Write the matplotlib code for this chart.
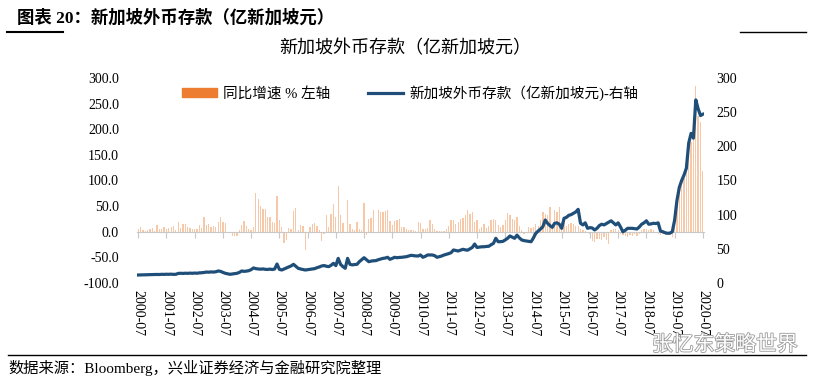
#!/usr/bin/env python3
# Singapore foreign currency deposits: yoy growth bars (left) + level line (right)
import matplotlib
matplotlib.use("Agg")
import matplotlib.pyplot as plt
import matplotlib.patheffects as pe
from matplotlib.lines import Line2D
from matplotlib.patches import Patch
from matplotlib.ticker import FormatStrFormatter
import pandas as pd

plt.rcParams['font.family'] = ['Liberation Serif', 'Noto Sans CJK SC', 'DejaVu Sans']
plt.rcParams['axes.unicode_minus'] = False

# monthly, 2000-07 .. 2020-07
months = pd.date_range("2000-07-01", "2020-07-01", freq="MS").strftime("%Y-%m").tolist()

# 同比增速 %  (left axis)
growth = [
    4.5, 10, 3, 2, 3, 4.5, 6.5, 2, 13, 4.5, 6, 10,
    4.5, 8, 10, 11, 3, 19.5, 6.5, 15, 16, 10, 8, 4.5,
    6, 4.5, 13, 6.5, 28, 13, 16, 10, 11, 10, 19.5, 28,
    19.5, 17.5, -3, 0, -8.5, -9, -8.5, 3, 13, 21, 11, 4.5,
    3, 10, 76, 64, 51, 43.5, 43.5, 29, 29, 19.5, 17.5, 70,
    22, 10, -22, -15.6, 8, 6, 40, 46, 3, 14, 12, -35,
    0, 9, 15.6, 17, 12, 4, -18, -4, 32, 9, 34, 55,
    28.6, 90, 32, 17, 0, 61, 15.6, 6, 3, 19, 6, 4,
    56, -7, 25, 27, 42, 0, 42, 38, 38, 40, 42, 21,
    14, 21, 23, 25, 9, 10, 6, 4, 4, 3, 2, 19,
    17, 6, 6, 8, 22, 15.6, 6, 2, 1, 1, 2, 5,
    12, 23, 22, 15.6, 19, 25, 27, 32, 43, 34, 38, 19,
    22, 6, 9, 15.6, 8, 12, 22, 25, 22, 14, 9, 14,
    22, 36, 32, 25, 22, 29, 12, 4, -5, 0, 9, 8,
    10, 15.6, 12, 23, 38, 35, 32, 48, 15.6, 43, 38, 48,
    19, 22, 12, 15.6, 18, 15, 12, 12, 5, 3, 2, -2,
    -5, -18, -20, -15, -14, -17, -10, -17, -23, 3, 5, 6,
    4, -4, -6, -8, -10, -6, -9, -5, -8, -4, 4, 5,
    6, 4, 5, 3, -3, -5, -7, -4, -6, -5, -7, -10,
    40, 58, 78, 90, 105, 127, 145, 175, 195, 285, 225, 215,
    118,
]

# 新加坡外币存款 (亿新加坡元)  (right axis)
deposits = [
    11.7, 11.8, 12.0, 11.9, 12.1, 12.3, 12.2, 12.4, 12.5, 12.4, 12.7, 12.6,
    12.8, 12.7, 12.9, 12.6, 12.7, 14.0, 14.2, 14.0, 14.3, 14.1, 14.4, 14.2,
    14.5, 14.3, 14.8, 15.0, 15.4, 16.0, 15.8, 16.2, 16.0, 16.4, 17.6, 17.0,
    15.5, 14.2, 13.5, 12.7, 13.2, 13.8, 14.2, 15.5, 17.6, 17.0, 17.4, 18.0,
    19.5, 22.0, 21.0, 20.5, 20.2, 20.6, 20.0, 19.8, 20.3, 19.7, 20.5, 27.8,
    20.0, 19.0, 20.5, 22.0, 23.4, 25.0, 27.3, 24.5, 21.5, 20.5, 19.8, 19.0,
    19.5, 20.0, 20.5, 21.0, 22.4, 23.5, 24.9, 25.5, 24.5, 23.9, 26.0, 28.8,
    25.4, 36.0, 27.3, 24.0, 21.5, 36.0, 27.3, 26.5, 27.0, 27.3, 31.2, 34.0,
    37.0, 34.0, 31.2, 32.0, 32.5, 32.7, 34.0, 35.0, 36.0, 36.5, 37.6, 34.6,
    36.0, 37.6, 37.0, 37.4, 37.6, 38.0, 38.5, 39.5, 40.5, 40.0, 39.6, 39.5,
    41.0, 37.6, 39.0, 41.0, 41.0, 41.0, 40.0, 37.6, 38.5, 39.5, 41.0, 42.0,
    43.0, 44.4, 48.3, 47.5, 46.8, 48.0, 49.3, 48.5, 48.0, 50.0, 52.0, 57.0,
    52.0, 52.5, 53.0, 53.0, 53.5, 53.7, 56.0, 58.0, 65.4, 60.4, 60.5, 60.9,
    63.0, 65.4, 68.8, 67.0, 65.4, 70.0, 66.0, 63.0, 62.0, 61.5, 61.0, 60.4,
    66.0, 72.7, 76.0, 79.0, 82.4, 92.2, 87.4, 84.0, 81.5, 87.4, 88.0, 86.0,
    80.0, 94.7, 96.0, 99.0, 100.0, 102.0, 104.0, 107.8, 87.4, 85.0, 88.0, 80.0,
    81.0, 80.5, 77.6, 80.0, 84.0, 86.0, 85.0, 87.0, 89.0, 91.0, 88.0, 85.0,
    88.0, 82.0, 75.0, 77.0, 80.0, 80.0, 80.0, 79.5, 79.0, 82.0, 86.0, 88.0,
    91.0, 86.0, 86.5, 87.4, 87.0, 88.0, 76.0, 75.0, 73.5, 72.7, 73.0, 75.0,
    92.0, 121.0, 140.0, 150.0, 158.0, 168.0, 205.0, 219.0, 212.0, 268.0, 255.0, 245.0,
    247.0,
]

idx = list(range(len(months)))
tick_pos = idx[::12]
tick_labels = months[::12]

fig = plt.figure(figsize=(8.27, 3.82), dpi=100)
ax = fig.add_axes([0.1657, 0.2592, 0.6856, 0.5366])

ax.bar(idx, growth, width=0.55, color="#ED7D31", alpha=0.42, linewidth=0)
ax.set_xlim(-0.5, len(idx) - 0.5)
ax.set_ylim(-100, 300)
ax.set_yticks(range(-100, 301, 50))
ax.yaxis.set_major_formatter(FormatStrFormatter('%.1f'))
ax.tick_params(axis='y', length=0, pad=13, labelsize=10)
for s in ['left', 'right', 'top']:
    ax.spines[s].set_visible(False)
ax.spines['bottom'].set_position(('data', 0))
ax.spines['bottom'].set_color('#c8c8c8')
ax.set_xticks(tick_pos)
ax.tick_params(axis='x', length=4, color='#c8c8c8', labelbottom=False)

# date labels sit at the bottom of the plot, not on the zero line
sec = ax.secondary_xaxis(0.0)
sec.set_xticks(tick_pos, tick_labels, rotation=270, fontsize=10)
sec.tick_params(length=0, pad=5)
sec.spines['bottom'].set_visible(False)

ax2 = ax.twinx()
ax2.plot(idx, deposits, color="#1F4E79", lw=2.3)
ax2.set_ylim(0, 300)
ax2.set_yticks(range(0, 301, 50))
ax2.tick_params(axis='y', length=0, pad=9, labelsize=10)
for s in ax2.spines.values():
    s.set_visible(False)

fig.legend([Patch(color="#ED7D31"), Line2D([], [], color="#1F4E79", lw=2.3)],
           ["同比增速 % 左轴", "新加坡外币存款（亿新加坡元)-右轴"],
           loc='center', bbox_to_anchor=(0.496, 0.757), ncol=2, frameon=False,
           fontsize=10.5, handlelength=2.4, handleheight=0.6, columnspacing=2.6,
           handletextpad=0.4)

fig.text(0.49, 0.874, "新加坡外币存款（亿新加坡元）", ha='center', va='center', fontsize=13)

# report header / footer
fig.text(0.02, 0.953, "图表 20：新加坡外币存款（亿新加坡元）", ha='left', va='center',
         fontsize=12.5, fontweight='bold')
fig.add_artist(Line2D([7 / 827, 63 / 827], [0.916, 0.916], color='black', lw=1.5))
fig.add_artist(Line2D([740 / 827, 806 / 827], [0.916, 0.916], color='black', lw=1.0))
fig.add_artist(Line2D([8 / 827, 806 / 827], [0.071, 0.071], color='black', lw=1.0))
fig.text(0.01, 0.037, "数据来源：Bloomberg，兴业证券经济与金融研究院整理", ha='left', va='center',
         fontsize=11)
fig.text(0.965, 0.098, "张忆东策略世界", ha='right', va='center', fontsize=15,
         family=['Noto Sans CJK SC'], color='white',
         path_effects=[pe.withStroke(linewidth=1.2, foreground='#9a9a9a')])

plt.savefig("out.png", dpi=100)
